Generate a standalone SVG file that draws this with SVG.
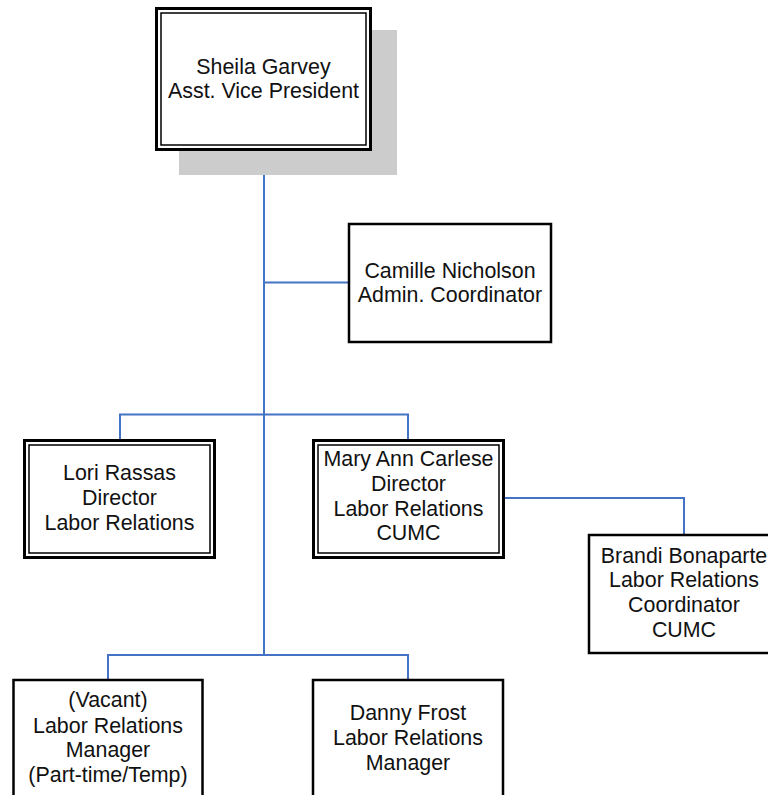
<svg xmlns="http://www.w3.org/2000/svg" width="768" height="795" viewBox="0 0 768 795">
<style>
.bg{fill:#ffffff}
.shadow{fill:#cccccc}
.outer{fill:#ffffff;stroke:#000000;stroke-width:3}
.inner{fill:none;stroke:#000000;stroke-width:1.5}
.box{fill:#ffffff;stroke:#000000;stroke-width:2.5}
.conn{fill:none;stroke:#4472c4;stroke-width:2}
text{font-family:"Liberation Sans",Arial,sans-serif;font-size:21.4px;fill:#111111;text-anchor:middle}
</style>
<rect class="bg" x="0" y="0" width="768" height="795"/>
<g id="connectors">
<path class="conn" d="M264 151 V655"/>
<path class="conn" d="M264 282.5 H348"/>
<path class="conn" d="M120 439 V414.5 H408 V439"/>
<path class="conn" d="M505 498 H684 V534"/>
<path class="conn" d="M108 679 V655 H408 V679"/>
</g>
<g id="sheila">
<rect class="shadow" x="179" y="30" width="218" height="145"/>
<rect class="outer" x="156.5" y="8.5" width="214" height="141"/>
<rect class="inner" x="161" y="13" width="205" height="132"/>
<text x="263.5" y="74">Sheila Garvey</text>
<text x="263.5" y="98">Asst. Vice President</text>
</g>
<g id="camille">
<rect class="box" x="349" y="224" width="202" height="118"/>
<text x="450" y="277.5">Camille Nicholson</text>
<text x="450" y="302">Admin. Coordinator</text>
</g>
<g id="lori">
<rect class="outer" x="24.5" y="440.5" width="190" height="117"/>
<rect class="inner" x="29" y="445" width="181" height="108"/>
<text x="119.5" y="479.5">Lori Rassas</text>
<text x="119.5" y="504.5">Director</text>
<text x="119.5" y="529.5">Labor Relations</text>
</g>
<g id="maryann">
<rect class="outer" x="313.5" y="440.5" width="190" height="117"/>
<rect class="inner" x="318" y="445" width="181" height="108"/>
<text x="408.5" y="466">Mary Ann Carlese</text>
<text x="408.5" y="490.5">Director</text>
<text x="408.5" y="515.5">Labor Relations</text>
<text x="408.5" y="540">CUMC</text>
</g>
<g id="brandi">
<rect class="box" x="589" y="535" width="190" height="118"/>
<text x="684" y="562.5">Brandi Bonaparte</text>
<text x="684" y="587">Labor Relations</text>
<text x="684" y="611.5">Coordinator</text>
<text x="684" y="636.5">CUMC</text>
</g>
<g id="vacant">
<rect class="box" x="13.5" y="680" width="189" height="140"/>
<text x="108" y="707">(Vacant)</text>
<text x="108" y="732.5">Labor Relations</text>
<text x="108" y="757">Manager</text>
<text x="108" y="782">(Part-time/Temp)</text>
</g>
<g id="danny">
<rect class="box" x="313" y="680" width="190" height="140"/>
<text x="408" y="720">Danny Frost</text>
<text x="408" y="745">Labor Relations</text>
<text x="408" y="769.5">Manager</text>
</g>
</svg>
